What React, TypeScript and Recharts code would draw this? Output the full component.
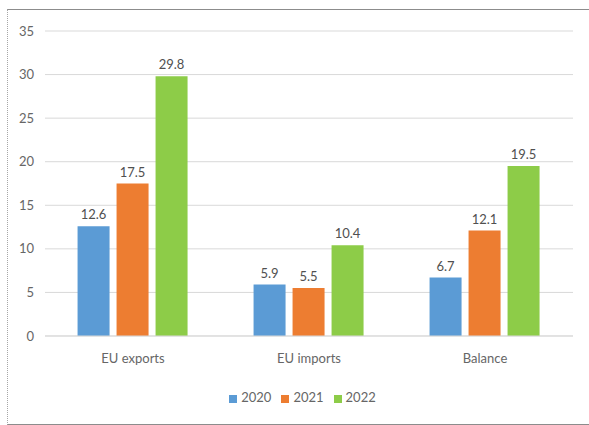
import { BarChart, Bar, XAxis, YAxis, CartesianGrid, Legend, LabelList } from 'recharts';

const categories = ['EU exports', 'EU imports', 'Balance'];
const values2020 = [12.6, 5.9, 6.7];
const values2021 = [17.5, 5.5, 12.1];
const values2022 = [29.8, 10.4, 19.5];
const yTicks = [0, 5, 10, 15, 20, 25, 30, 35];

const series = [
  { key: 'y2020', name: '2020', color: '#5b9bd5' },
  { key: 'y2021', name: '2021', color: '#ed7d31' },
  { key: 'y2022', name: '2022', color: '#8dcc48' },
];

const data = categories.map((name, i) => ({
  name,
  y2020: values2020[i],
  y2021: values2021[i],
  y2022: values2022[i],
}));

const FONT = 'Lato, "Open Sans", sans-serif';

export default function App() {
  return (
    <div style={{ position: 'absolute', left: 0, top: 0, width: 589, height: 425, background: '#fff', fontFamily: FONT }}>
      {/* chart frame: no right edge visible in the original */}
      <div
        style={{
          position: 'absolute',
          left: 7,
          top: 9,
          width: 582,
          height: 414,
          borderTop: '1px solid #8c8c8c',
          borderLeft: '1px dotted #a6a6a6',
          borderBottom: '1px solid #8c8c8c',
        }}
      />
      <div style={{ position: 'absolute', left: 0, top: 0 }}>
        <BarChart
          width={589}
          height={425}
          data={data}
          margin={{ top: 31, right: 16, left: 0, bottom: 20 }}
          barCategoryGap="18.5%"
          barGap={7}
        >
          <CartesianGrid vertical={false} stroke="#d9d9d9" />
          <XAxis
            dataKey="name"
            axisLine={{ stroke: '#d9d9d9' }}
            tickLine={false}
            tickSize={0}
            tickMargin={18}
            height={53}
            tick={{ fontSize: 13, fill: '#666666', fontFamily: FONT }}
          />
          <YAxis
            domain={[0, 35]}
            ticks={yTicks}
            axisLine={false}
            tickLine={false}
            tickSize={0}
            tickMargin={11}
            width={45}
            tick={{ fontSize: 13, fill: '#666666', fontFamily: FONT }}
          />
          <Legend
            verticalAlign="bottom"
            iconType="square"
            iconSize={8}
            wrapperStyle={{ fontSize: 13, fontFamily: FONT, paddingLeft: 21 }}
            formatter={(v) => <span style={{ color: '#666666' }}>{v}</span>}
          />
          {series.map((s) => (
            <Bar key={s.key} dataKey={s.key} name={s.name} fill={s.color} isAnimationActive={false}>
              <LabelList dataKey={s.key} position="top" offset={7} style={{ fontSize: 13, fill: '#505050', fontFamily: FONT }} />
            </Bar>
          ))}
        </BarChart>
      </div>
    </div>
  );
}
